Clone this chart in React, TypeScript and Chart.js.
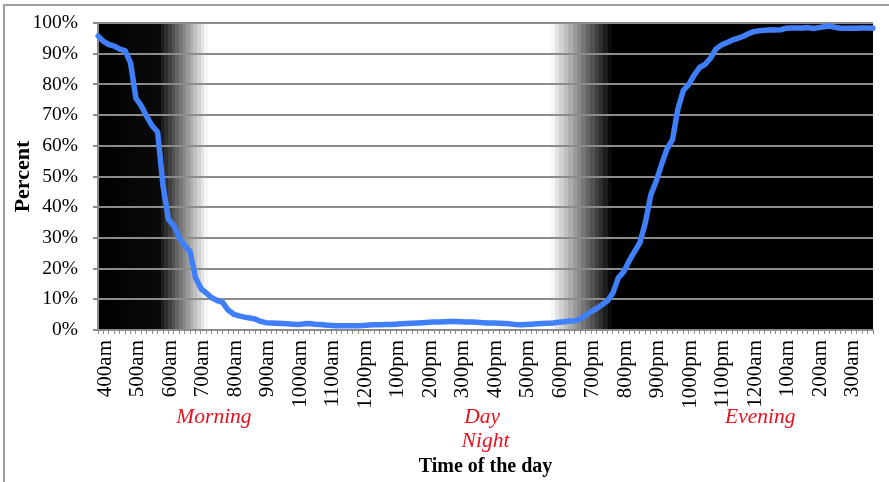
import React, { useEffect, useRef } from 'react';
import { Chart, registerables } from 'chart.js';

Chart.register(...registerables);

// Hourly tick labels (one every 6 samples, samples are every 10 minutes)
const hourLabels = [
  '400am', '500am', '600am', '700am', '800am', '900am', '1000am', '1100am',
  '1200pm', '100pm', '200pm', '300pm', '400pm', '500pm', '600pm', '700pm',
  '800pm', '900pm', '1000pm', '1100pm', '1200am', '100am', '200am', '300am',
];
const samplesPerHour = 6;

// Percent values, one per 10 minutes from 4:00am to 3:50am
const percentValues = [
  95.8, 94.0, 93.0, 92.5, 91.5, 91.0, 87.0, 75.5, 73.0, 69.5, 66.5, 64.5,
  47.0, 36.0, 34.0, 30.0, 27.5, 25.5, 17.0, 13.5, 12.0, 10.5, 9.6, 9.0,
  6.5, 5.2, 4.6, 4.2, 3.9, 3.6, 2.8, 2.4, 2.3, 2.2, 2.1, 2.0,
  1.9, 1.8, 2.0, 2.1, 1.9, 1.8, 1.6, 1.5, 1.4, 1.4, 1.4, 1.4,
  1.4, 1.5, 1.6, 1.7, 1.7, 1.8, 1.8, 1.9, 2.0, 2.1, 2.2, 2.3,
  2.4, 2.5, 2.6, 2.6, 2.7, 2.8, 2.8, 2.7, 2.6, 2.6, 2.5, 2.4,
  2.3, 2.3, 2.2, 2.1, 2.0, 1.8, 1.7, 1.8, 1.9, 2.0, 2.1, 2.2,
  2.3, 2.5, 2.7, 2.9, 3.0, 3.6, 4.8, 6.0, 7.0, 8.2, 9.5, 12.0,
  17.0, 19.0, 22.5, 25.5, 28.5, 35.0, 44.0, 48.5, 54.0, 59.0, 62.0, 72.0,
  78.0, 80.0, 83.0, 85.5, 86.5, 88.5, 91.5, 92.8, 93.6, 94.4, 95.0, 95.6,
  96.5, 97.2, 97.5, 97.6, 97.8, 97.7, 97.8, 98.3, 98.4, 98.4, 98.4, 98.5,
  98.2, 98.5, 98.8, 99.0, 98.6, 98.3, 98.3, 98.3, 98.3, 98.4, 98.4, 98.3,
];

// Category labels: the hour label on each full hour, blank otherwise
const categories = percentValues.map((_, i) =>
  i % samplesPerHour === 0 ? hourLabels[i / samplesPerHour] : ''
);

// Twilight transitions (in sample-index units)
const dawnStart = 10.9;
const dawnEnd = 20.3;
const duskStart = 83.5;
const duskEnd = 94.9;

// Red period annotations (text, sample-index position, line under the axis)
const periodTexts = ['Morning', 'Day', 'Night', 'Evening'];
const periodIndex = [21.4, 70.9, 71.5, 122.2];
const periodLine = [0, 0, 1, 0];

const SERIF = '"Liberation Serif", "Times New Roman", serif';
const GRID = '#8c8c8c';

function addSteps(g: CanvasGradient, s: number, e: number, from: number, to: number) {
  const n = 14;
  for (let k = 0; k < n; k++) {
    const t = k / (n - 1);
    const c = Math.round(from + (to - from) * t);
    const col = `rgb(${c},${c},${c})`;
    const a = Math.min(1, Math.max(0, s + ((e - s) * k) / n));
    const b = Math.min(1, Math.max(0, s + ((e - s) * (k + 1)) / n));
    g.addColorStop(a, col);
    g.addColorStop(b, col);
  }
}

const shadingPlugin = {
  id: 'dayNightShading',
  beforeDraw(chart: any) {
    const { ctx, chartArea: a, scales } = chart;
    const x = scales.x;
    const w = a.right - a.left;
    const f = (idx: number) => (x.getPixelForValue(idx) - a.left) / w;
    const g = ctx.createLinearGradient(a.left, 0, a.right, 0);
    g.addColorStop(0, '#000');
    addSteps(g, f(dawnStart), f(dawnEnd), 10, 245);
    g.addColorStop(Math.min(1, f(dawnEnd)), '#fff');
    g.addColorStop(Math.min(1, f(duskStart)), '#fff');
    addSteps(g, f(duskStart), f(duskEnd), 245, 10);
    g.addColorStop(Math.min(1, f(duskEnd)), '#000');
    g.addColorStop(1, '#000');
    ctx.save();
    ctx.fillStyle = g;
    ctx.fillRect(a.left, a.top, w, a.bottom - a.top);
    ctx.restore();
  },
  afterDraw(chart: any) {
    const { ctx, chartArea: a, scales } = chart;
    const x = scales.x;
    ctx.save();
    ctx.font = `italic 21.5px ${SERIF}`;
    ctx.fillStyle = '#e8101c';
    ctx.textAlign = 'center';
    ctx.textBaseline = 'middle';
    periodTexts.forEach((t, i) => {
      ctx.fillText(t, x.getPixelForValue(periodIndex[i]), a.bottom + 87 + periodLine[i] * 24);
    });
    ctx.restore();
  },
};

export default function App() {
  const ref = useRef<HTMLCanvasElement | null>(null);

  useEffect(() => {
    document.body.style.margin = '0';
    const canvas = ref.current;
    if (!canvas) return;
    const chart = new Chart(canvas, {
      type: 'line',
      data: {
        labels: categories,
        datasets: [
          {
            data: percentValues,
            borderColor: '#3f7ffa',
            borderWidth: 5.5,
            pointRadius: 0,
            tension: 0,
            fill: false,
            borderJoinStyle: 'round',
            borderCapStyle: 'round',
          },
        ],
      },
      options: {
        animation: false,
        responsive: false,
        maintainAspectRatio: false,
        layout: { padding: { top: 23, right: 16, left: 0, bottom: 0 } },
        plugins: { legend: { display: false }, tooltip: { enabled: false } },
        scales: {
          x: {
            type: 'category',
            offset: false,
            ticks: {
              autoSkip: false,
              maxRotation: 90,
              minRotation: 90,
              labelOffset: 7,
              padding: 6,
              color: '#000',
              font: { family: SERIF, size: 21 },
            },
            grid: {
              drawOnChartArea: false,
              drawTicks: true,
              tickLength: 4,
              color: GRID,
              lineWidth: 1,
            },
            border: { display: true, color: GRID, width: 2 },
            title: {
              display: true,
              text: 'Time of the day',
              color: '#000',
              font: { family: SERIF, size: 20, weight: 'bold' },
              padding: { top: 0, bottom: 3 },
            },
            afterFit: (s: any) => {
              s.height = 152;
              s.paddingLeft = 0;
              s.paddingRight = 0;
            },
          },
          y: {
            min: 0,
            max: 100,
            ticks: {
              stepSize: 10,
              padding: 15,
              color: '#000',
              font: { family: SERIF, size: 19.5 },
              callback: (v: any) => `${v}%`,
            },
            grid: { color: GRID, lineWidth: 2, tickLength: 5, drawTicks: true },
            border: { display: true, color: GRID, width: 2 },
            title: {
              display: true,
              text: 'Percent',
              color: '#000',
              font: { family: SERIF, size: 22, weight: 'bold' },
              padding: { top: 10, bottom: 0 },
            },
            afterFit: (s: any) => {
              s.width = 98;
              s.paddingTop = 0;
              s.paddingBottom = 0;
            },
          },
        },
      },
      plugins: [shadingPlugin],
    });
    return () => chart.destroy();
  }, []);

  return (
    <div style={{ position: 'relative', width: 889, height: 482, background: '#fff' }}>
      <canvas ref={ref} width={889} height={482} style={{ display: 'block', width: 889, height: 482 }} />
      <div
        style={{
          position: 'absolute',
          left: 3,
          top: 4,
          right: 0,
          bottom: 0,
          borderTop: '2px solid #a0a0a0',
          borderLeft: '2px solid #a0a0a0',
          pointerEvents: 'none',
        }}
      />
    </div>
  );
}
